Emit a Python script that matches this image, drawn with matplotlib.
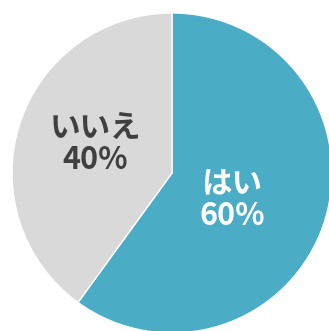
import matplotlib.pyplot as plt

plt.rcParams['font.family'] = ['Noto Sans CJK JP', 'DejaVu Sans']

labels = ['はい', 'いいえ']
values = [60, 40]
colors = ['#4BACC6', '#D9D9D9']
text_colors = ['white', '#404040']
label_pos = [(0.375, -0.17), (-0.48, 0.18)]

fig = plt.figure(figsize=(3.29, 3.31), dpi=100)
ax = fig.add_axes([0, 0, 1, 1])
ax.pie(values, colors=colors, startangle=90, counterclock=False,
       wedgeprops=dict(edgecolor='white', linewidth=1))

# ラベル
for lab, v, c, (x, y) in zip(labels, values, text_colors, label_pos):
    ax.text(x, y, f'{lab}\n{v}%', ha='center', va='center', color=c,
            fontsize=22, fontweight='bold', linespacing=1.0)

ax.set_xlim(-1.075, 0.981)
ax.set_ylim(-0.9875, 1.081)
ax.axis('off')
fig.savefig('out.png', dpi=100)
